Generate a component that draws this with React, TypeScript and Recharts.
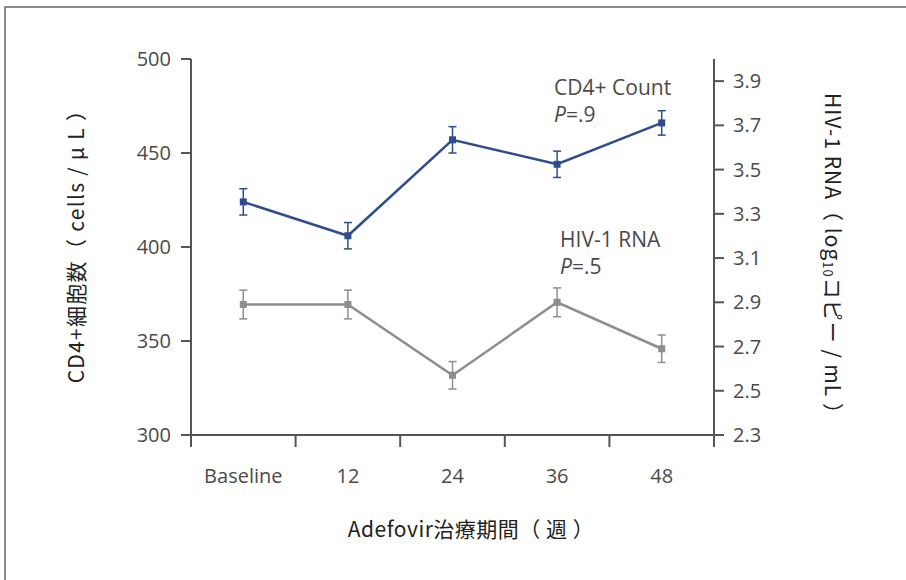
import React from 'react'
import { ComposedChart, Line, XAxis, YAxis, ErrorBar, ReferenceDot } from 'recharts'

const weeks = ['Baseline', '12', '24', '36', '48']
const cd4Count = [424, 406, 457, 444, 466]
const cd4Error = [7, 7, 7, 7, 6.5]
const hivRna = [2.89, 2.89, 2.57, 2.9, 2.69]
const hivRnaError = [0.065, 0.065, 0.062, 0.065, 0.062]
const cd4Ticks = [300, 350, 400, 450, 500]
const rnaTicks = [2.3, 2.5, 2.7, 2.9, 3.1, 3.3, 3.5, 3.7, 3.9]

const data = weeks.map((week, i) => ({
  week,
  cd4: cd4Count[i],
  cd4Err: cd4Error[i],
  rna: hivRna[i],
  rnaErr: hivRnaError[i],
}))

const W = 906
const H = 580
const PLOT_LEFT = 191
const PLOT_RIGHT = 714
const PLOT_TOP = 59
const PLOT_BOTTOM = 435
const BAND = (PLOT_RIGHT - PLOT_LEFT) / weeks.length

const AXIS = '#555'
const TICK = '#4a4a4a'
const BLUE = '#2f4d8e'
const GREY = '#8e8e8e'
const TICK_FONT = '"Open Sans", sans-serif'
const TITLE_FONT = '"Noto Sans CJK JP", sans-serif'

function WeekTick(props: any) {
  const { x, y, payload, index } = props
  const left = x - BAND / 2
  const right = x + BAND / 2
  const last = index === weeks.length - 1
  return (
    <g>
      <line x1={left} y1={y} x2={left} y2={y + 12} stroke={AXIS} strokeWidth={2} />
      {index === 0 && <line x1={left - 9} y1={y} x2={left} y2={y} stroke={AXIS} strokeWidth={2} />}
      {last && <line x1={right} y1={y} x2={right} y2={y + 12} stroke={AXIS} strokeWidth={2} />}
      {last && <line x1={right} y1={y} x2={right + 10} y2={y} stroke={AXIS} strokeWidth={2} />}
      <text x={x} y={y + 48} textAnchor="middle" fill={TICK} fontSize={20} fontFamily={TICK_FONT}>
        {payload.value}
      </text>
    </g>
  )
}

function SquareDot(props: any) {
  const { cx, cy, stroke } = props
  if (cx == null || cy == null) return null
  return <rect x={cx - 3.5} y={cy - 3.5} width={7} height={7} fill={stroke} />
}

function Note({ title, p, dx }: { title: string; p: string; dx: number }) {
  return (props: any) => {
    const { viewBox } = props
    const x = viewBox.x + viewBox.width / 2 + dx
    const y = viewBox.y + viewBox.height / 2
    return (
      <g fontFamily={TICK_FONT} fontSize={21} fill={TICK}>
        <text x={x} y={y}>{title}</text>
        <text x={x} y={y + 27}>
          <tspan fontStyle="italic">P</tspan>
          {p}
        </text>
      </g>
    )
  }
}

export default function App() {
  return (
    <div style={{ position: 'absolute', left: 0, top: 0, width: W, height: H, overflow: 'hidden', background: '#fff' }}>
      <div
        style={{
          position: 'absolute',
          left: 4,
          top: 6,
          width: W + 20,
          height: H + 20,
          borderTop: '2px solid #8a8a8a',
          borderLeft: '2px solid #8a8a8a',
        }}
      />
      <ComposedChart
        width={W}
        height={H}
        data={data}
        margin={{ top: PLOT_TOP, right: 0, bottom: 0, left: 0 }}
        style={{ position: 'absolute', left: 0, top: 0 }}
      >
        <XAxis
          dataKey="week"
          scale="band"
          height={H - PLOT_BOTTOM}
          axisLine={{ stroke: AXIS, strokeWidth: 2 }}
          tickLine={false}
          tickSize={0}
          tickMargin={0}
          interval={0}
          tick={<WeekTick />}
          label={{
            content: (props: any) => (
              <text
                x={props.viewBox.x + 280}
                y={props.viewBox.y + 102}
                textAnchor="middle"
                fontFamily={TITLE_FONT}
                fontSize={21}
                letterSpacing={0.5}
                fill="#222"
              >
                Adefovir治療期間（ 週 ）
              </text>
            ),
          }}
        />
        <YAxis
          yAxisId="left"
          width={PLOT_LEFT}
          domain={[300, 500]}
          ticks={cd4Ticks}
          axisLine={{ stroke: AXIS, strokeWidth: 2 }}
          tickLine={{ stroke: AXIS, strokeWidth: 2 }}
          tickSize={10}
          tickMargin={10}
          tick={{ fill: TICK, fontSize: 20, fontFamily: TICK_FONT }}
          label={{
            content: (props: any) => {
              const cx = props.viewBox.x + 75
              const cy = props.viewBox.y + props.viewBox.height / 2 - 6
              return (
                <text
                  x={cx}
                  y={cy}
                  transform={`rotate(-90, ${cx}, ${cy})`}
                  textAnchor="middle"
                  dominantBaseline="central"
                  fontFamily={TITLE_FONT}
                  fontSize={21}
                  letterSpacing={1.3}
                  fill="#222"
                >
                  CD4+細胞数（ cells / μ L ）
                </text>
              )
            },
          }}
        />
        <YAxis
          yAxisId="right"
          orientation="right"
          width={W - PLOT_RIGHT}
          domain={[2.3, 4.0]}
          ticks={rnaTicks}
          tickFormatter={(v: number) => v.toFixed(1)}
          axisLine={{ stroke: AXIS, strokeWidth: 2 }}
          tickLine={{ stroke: AXIS, strokeWidth: 2 }}
          tickSize={10}
          tickMargin={9}
          tick={{ fill: TICK, fontSize: 20, fontFamily: TICK_FONT }}
          label={{
            content: (props: any) => {
              const cx = props.viewBox.x + 120
              const cy = props.viewBox.y + props.viewBox.height / 2 + 12
              return (
                <text
                  x={cx}
                  y={cy}
                  transform={`rotate(90, ${cx}, ${cy})`}
                  textAnchor="middle"
                  dominantBaseline="central"
                  fontFamily={TITLE_FONT}
                  fontSize={21}
                  letterSpacing={1}
                  fill="#222"
                >
                  HIV-1 RNA（ log
                  <tspan fontSize={13} dy={5}>10</tspan>
                  <tspan dy={-5}>コピー / mL ）</tspan>
                </text>
              )
            },
          }}
        />
        <Line
          yAxisId="right"
          dataKey="rna"
          stroke={GREY}
          strokeWidth={2.5}
          dot={<SquareDot />}
          activeDot={false}
          isAnimationActive={false}
        >
          <ErrorBar dataKey="rnaErr" direction="y" width={4} stroke={GREY} strokeWidth={1.5} isAnimationActive={false} />
        </Line>
        <Line
          yAxisId="left"
          dataKey="cd4"
          stroke={BLUE}
          strokeWidth={2.5}
          dot={<SquareDot />}
          activeDot={false}
          isAnimationActive={false}
        >
          <ErrorBar dataKey="cd4Err" direction="y" width={4} stroke={BLUE} strokeWidth={1.5} isAnimationActive={false} />
        </Line>
        <ReferenceDot
          yAxisId="left"
          x="36"
          y={481}
          r={0}
          fill="none"
          stroke="none"
          label={{ content: Note({ title: 'CD4+ Count', p: '=.9', dx: -3 }) }}
        />
        <ReferenceDot
          yAxisId="left"
          x="36"
          y={400}
          r={0}
          fill="none"
          stroke="none"
          label={{ content: Note({ title: 'HIV-1 RNA', p: '=.5', dx: 3 }) }}
        />
      </ComposedChart>
    </div>
  )
}
